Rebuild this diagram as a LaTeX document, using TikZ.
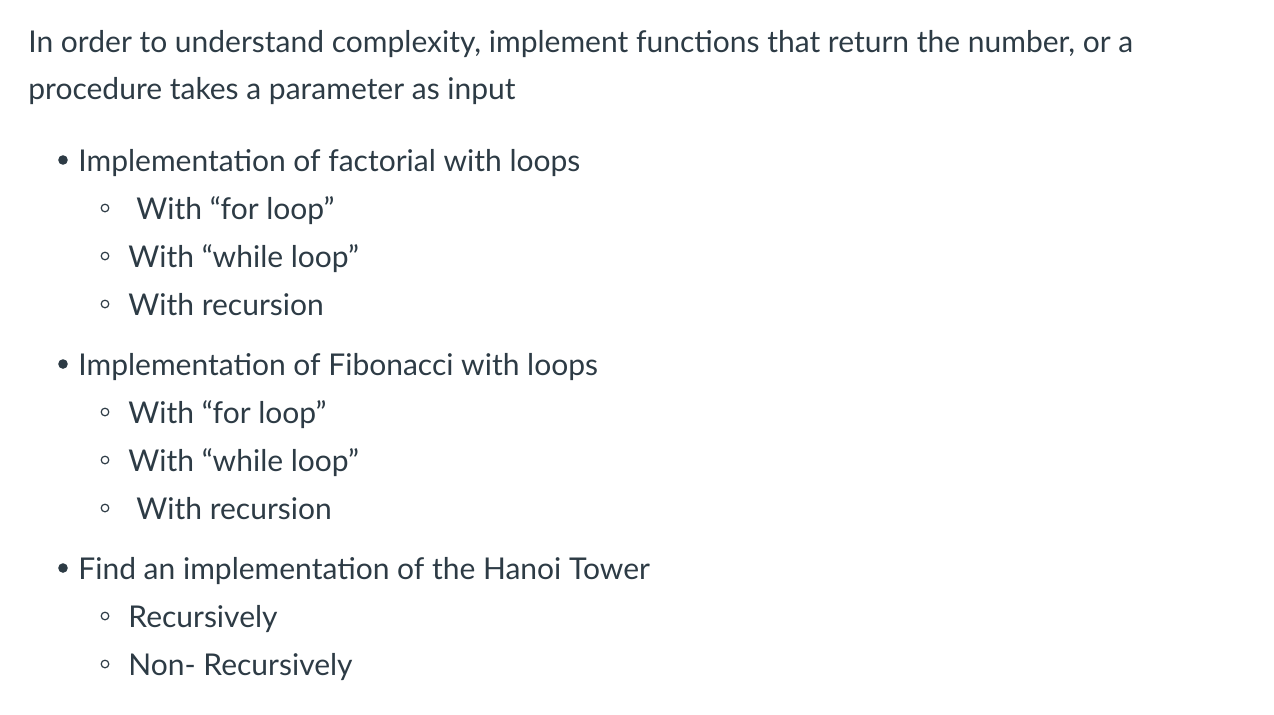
\documentclass[tikz,border=0pt]{standalone}
\usepackage{fontspec}
\setmainfont{Lato}
\definecolor{txt}{HTML}{2D3B45}
\begin{document}
\begin{tikzpicture}[x=0.5pt,y=-0.5pt,
  t/.style={anchor=base west,inner sep=0,text=txt,font=\fontsize{15}{18}\selectfont},
  dot/.style={fill=txt,draw=none},
  ring/.style={draw=txt,line width=0.6pt}]
\useasboundingbox (0,0) rectangle (1274,714);
\node[t] (l1) at (28,52) {In order to understand complexity, implement functions that return the number, or a};
\node[t] (l2) at (28,99) {procedure takes a parameter as input};
% bullet 1
\fill[dot] (63,160) circle (4.8);
\node[t] (b1) at (78,171) {Implementation of factorial with loops};
\draw[ring] (105,208) circle (3.8); \node[t] (b1a) at (136,219) {With “for loop”};
\draw[ring] (105,256) circle (3.8); \node[t] (b1b) at (128,267) {With “while loop”};
\draw[ring] (105,304) circle (3.8); \node[t] (b1c) at (128,315) {With recursion};
% bullet 2
\fill[dot] (63,364) circle (4.8);
\node[t] (b2) at (78,375) {Implementation of Fibonacci with loops};
\draw[ring] (105,412) circle (3.8); \node[t] (b2a) at (128,423) {With “for loop”};
\draw[ring] (105,460) circle (3.8); \node[t] (b2b) at (128,471) {With “while loop”};
\draw[ring] (105,508) circle (3.8); \node[t] (b2c) at (136,519) {With recursion};
% bullet 3
\fill[dot] (63,568) circle (4.8);
\node[t] (b3) at (78,579) {Find an implementation of the Hanoi Tower};
\draw[ring] (105,616) circle (3.8); \node[t] (b3a) at (128,627) {Recursively};
\draw[ring] (105,664) circle (3.8); \node[t] (b3b) at (128,675) {Non- Recursively};
\end{tikzpicture}
\end{document}
